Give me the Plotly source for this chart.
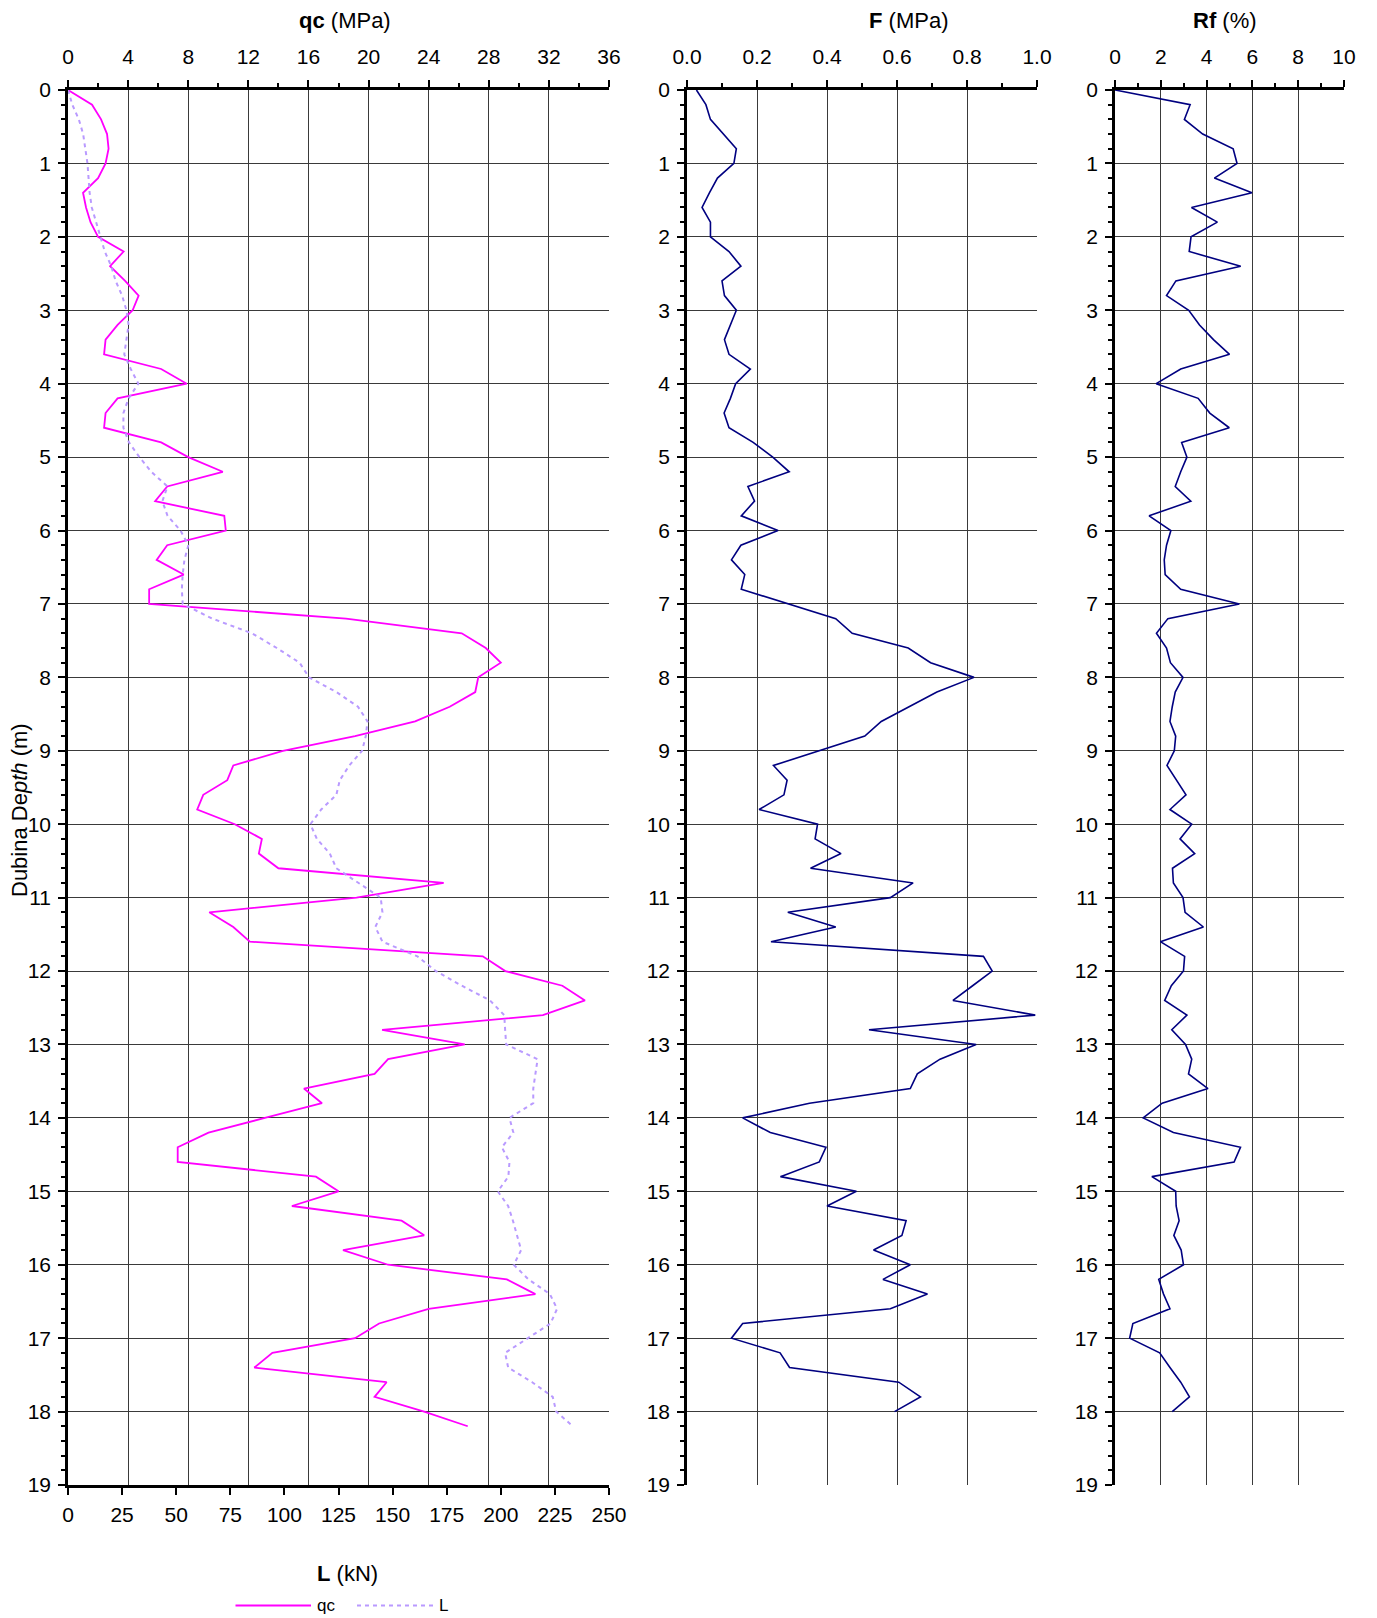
import plotly.graph_objects as go

# ---------------- data ----------------
depth_qc = [0.0, 0.2, 0.4, 0.6, 0.8, 1.0, 1.2, 1.4, 1.6, 1.8, 2.0, 2.2, 2.4, 2.6, 2.8, 3.0,
            3.2, 3.4, 3.6, 3.8, 4.0, 4.2, 4.4, 4.6, 4.8, 5.0, 5.2, 5.4, 5.6, 5.8, 6.0, 6.2,
            6.4, 6.6, 6.8, 7.0, 7.2, 7.4, 7.6, 7.8, 8.0, 8.2, 8.4, 8.6, 8.8, 9.0, 9.2, 9.4,
            9.6, 9.8, 10.0, 10.2, 10.4, 10.6, 10.8, 11.0, 11.2, 11.4, 11.6, 11.8, 12.0, 12.2,
            12.4, 12.6, 12.8, 13.0, 13.2, 13.4, 13.6, 13.8, 14.0, 14.2, 14.4, 14.6, 14.8, 15.0,
            15.2, 15.4, 15.6, 15.8, 16.0, 16.2, 16.4, 16.6, 16.8, 17.0, 17.2, 17.4, 17.6, 17.8,
            18.0, 18.2]

qc_mpa = [0, 1.6, 2.2, 2.6, 2.7, 2.5, 2.0, 1.0, 1.2, 1.5, 2.0, 3.7, 2.8, 3.8, 4.7, 4.3,
          3.3, 2.5, 2.4, 6.2, 7.9, 3.3, 2.5, 2.4, 6.2, 8.0, 10.3, 6.6, 5.8, 10.4, 10.5, 6.6,
          5.9, 7.7, 5.4, 5.4, 18.5, 26.2, 27.8, 28.8, 27.3, 27.1, 25.4, 23.1, 19.1, 14.3, 11.0, 10.6,
          9.0, 8.6, 11.1, 12.9, 12.7, 14.0, 25.0, 19.2, 9.4, 11.0, 12.1, 27.6, 29.1, 32.9,
          34.4, 31.6, 20.9, 26.4, 21.3, 20.4, 15.7, 16.9, 13.1, 9.35, 7.3, 7.3, 16.5, 18.0,
          14.9, 22.2, 23.7, 18.3, 21.3, 29.2, 31.1, 24.0, 20.7, 19.1, 13.6, 12.4, 21.2, 20.4,
          23.7, 26.6]

L_kn = [0, 2, 5, 7, 8, 9, 9.5, 10, 11, 13, 15, 17, 20, 22, 25, 27,
        28, 27, 26, 29, 32.5, 28, 25.6, 25.6, 28.2, 33, 38.5, 46, 43.6, 46, 52, 55.6,
        53.8, 53, 52.6, 53, 66.7, 85, 96.5, 107, 111.4, 124, 134, 138.4, 137.6, 135.9, 130, 125.6,
        124, 117, 112, 115, 121, 124, 134, 144.5, 145.3, 142, 145.3, 161.5, 170, 182,
        195, 201.6, 202, 202.5, 217, 216, 215, 215, 204, 205.8, 200.5, 204, 203.5, 198.6,
        203.4, 205.6, 207.6, 209.4, 206, 212.8, 222.7, 226, 223, 212.8, 202, 203.4, 214.5, 224,
        225.6, 233.3]

depth_f = [0.0, 0.2, 0.4, 0.6, 0.8, 1.0, 1.2, 1.4, 1.6, 1.8, 2.0, 2.2, 2.4, 2.6, 2.8, 3.0,
           3.2, 3.4, 3.6, 3.8, 4.0, 4.2, 4.4, 4.6, 4.8, 5.0, 5.2, 5.4, 5.6, 5.8, 6.0, 6.2,
           6.4, 6.6, 6.8, 7.0, 7.2, 7.4, 7.6, 7.8, 8.0, 8.2, 8.4, 8.6, 8.8, 9.0, 9.2, 9.4,
           9.6, 9.8, 10.0, 10.2, 10.4, 10.6, 10.8, 11.0, 11.2, 11.4, 11.6, 11.8, 12.0, 12.2,
           12.4, 12.6, 12.8, 13.0, 13.2, 13.4, 13.6, 13.8, 14.0, 14.2, 14.4, 14.6, 14.8, 15.0,
           15.2, 15.4, 15.6, 15.8, 16.0, 16.2, 16.4, 16.6, 16.8, 17.0, 17.2, 17.4, 17.6, 17.8,
           18.0]

F_mpa = [0.027, 0.054, 0.067, 0.105, 0.141, 0.134, 0.087, 0.064, 0.043, 0.067, 0.067, 0.12, 0.154, 0.10, 0.107, 0.141,
         0.123, 0.107, 0.12, 0.181, 0.139, 0.124, 0.106, 0.12, 0.189, 0.245, 0.292, 0.174, 0.193, 0.155, 0.26, 0.154,
         0.127, 0.165, 0.155, 0.288, 0.425, 0.472, 0.632, 0.696, 0.82, 0.714, 0.636, 0.555, 0.508, 0.375, 0.247, 0.286,
         0.277, 0.206, 0.373, 0.366, 0.44, 0.353, 0.646, 0.581, 0.288, 0.425, 0.24, 0.847, 0.872, 0.816,
         0.76, 0.995, 0.52, 0.826, 0.723, 0.658, 0.638, 0.35, 0.159, 0.238, 0.397, 0.378, 0.267, 0.484,
         0.4, 0.626, 0.614, 0.533, 0.638, 0.56, 0.687, 0.581, 0.159, 0.127, 0.266, 0.293, 0.605, 0.667,
         0.593]

Rf_pct = [0, 3.28, 3.03, 3.83, 5.16, 5.33, 4.34, 5.98, 3.34, 4.47, 3.32, 3.24, 5.49, 2.66, 2.25, 3.22,
          3.69, 4.3, 5.0, 2.87, 1.8, 3.63, 4.14, 4.99, 2.91, 3.14, 2.87, 2.63, 3.31, 1.49, 2.44, 2.25,
          2.15, 2.19, 2.87, 5.43, 2.31, 1.81, 2.25, 2.42, 2.97, 2.63, 2.5, 2.4, 2.65, 2.59, 2.27, 2.68,
          3.1, 2.4, 3.35, 2.84, 3.48, 2.51, 2.55, 2.97, 3.06, 3.86, 1.98, 3.04, 2.99, 2.46,
          2.17, 3.14, 2.48, 3.08, 3.35, 3.21, 4.06, 2.06, 1.23, 2.55, 5.48, 5.2, 1.61, 2.65,
          2.67, 2.8, 2.57, 2.89, 2.99, 1.91, 2.12, 2.4, 0.78, 0.64, 1.95, 2.4, 2.87, 3.25,
          2.5]

qc_ticks = [0, 4, 8, 12, 16, 20, 24, 28, 32, 36]
L_ticks = [0, 25, 50, 75, 100, 125, 150, 175, 200, 225, 250]
F_ticks = [0.0, 0.2, 0.4, 0.6, 0.8, 1.0]
Rf_ticks = [0, 2, 4, 6, 8, 10]
depth_ticks = list(range(0, 20))

# ---------------- geometry (page px; the page body has an 8px margin) ----------------
OFF = 8
W, H = 1377 - OFF, 1618 - OFF
PLOT_L, PLOT_R, PLOT_T, PLOT_B = 68, 1344, 90, 1485   # page coords of plot area
ML = PLOT_L - OFF
MT = PLOT_T - OFF
MR = W - (PLOT_R - OFF)
MB = H - (PLOT_B - OFF)
PW = PLOT_R - PLOT_L
PH = PLOT_B - PLOT_T


def px_x(x):
    return (x - PLOT_L) / PW


def px_y(y):
    return (PLOT_B - y) / PH


FONT = "Liberation Sans, Arial, sans-serif"
MAGENTA = "#FF00FF"
LAV = "#B99AFF"
NAVY = "#000080"
GRID = "#3a3a3a"
L_DASH = "4px,4px"

fig = go.Figure()
fig.add_trace(go.Scatter(x=qc_mpa, y=depth_qc, mode="lines", name="qc",
                         line=dict(color=MAGENTA, width=1.8), xaxis="x", yaxis="y"))
fig.add_trace(go.Scatter(x=L_kn, y=depth_qc, mode="lines", name="L",
                         line=dict(color=LAV, width=2, dash=L_DASH), xaxis="x4", yaxis="y"))
fig.add_trace(go.Scatter(x=F_mpa, y=depth_f, mode="lines", name="F",
                         line=dict(color=NAVY, width=1.6), xaxis="x2", yaxis="y2"))
fig.add_trace(go.Scatter(x=Rf_pct, y=depth_f, mode="lines", name="Rf",
                         line=dict(color=NAVY, width=1.6), xaxis="x3", yaxis="y3"))

tickfont = dict(family=FONT, size=21, color="black")

top_common = dict(side="top", showgrid=True, gridcolor=GRID, gridwidth=1,
                  showline=True, linecolor="black", linewidth=2.5,
                  ticks="outside", ticklen=7, tickwidth=1.5, tickcolor="black",
                  tickfont=tickfont, ticklabelstandoff=8, zeroline=False)

y_common = dict(range=[19, 0], tickmode="array", tickvals=depth_ticks,
                showgrid=True, gridcolor=GRID, gridwidth=1,
                showline=True, linecolor="black", linewidth=2.5,
                ticks="outside", ticklen=7, tickwidth=1.5, tickcolor="black",
                minor=dict(dtick=0.2, tick0=0, ticks="outside", ticklen=4,
                           tickwidth=1.5, tickcolor="black", showgrid=False),
                tickfont=tickfont, ticklabelstandoff=3, zeroline=False)

d1 = [0, px_x(609)]
d2 = [px_x(687), px_x(1037)]
d3 = [px_x(1115), 1.0]

fig.update_layout(
    width=W, height=H,
    margin=dict(l=ML, r=MR, t=MT, b=MB, pad=0, autoexpand=False),
    paper_bgcolor="white", plot_bgcolor="white",
    font=dict(family=FONT, color="black"),
    showlegend=False,
    xaxis=dict(domain=d1, range=[0, 36], tickmode="array", tickvals=qc_ticks,
               minor=dict(dtick=2, tick0=0, ticks="outside", ticklen=4, tickwidth=1.5,
                          tickcolor="black", showgrid=False),
               anchor="y", **top_common),
    xaxis4=dict(overlaying="x", side="bottom", anchor="y", range=[0, 250],
                tickmode="array", tickvals=L_ticks, showgrid=False,
                showline=True, linecolor="black", linewidth=2.5,
                ticks="outside", ticklen=7, tickwidth=1.5, tickcolor="black",
                tickfont=tickfont, ticklabelstandoff=2, zeroline=False),
    xaxis2=dict(domain=d2, range=[0, 1.0], tickmode="array", tickvals=F_ticks,
                tickformat=".1f",
                minor=dict(dtick=0.1, tick0=0, ticks="outside", ticklen=4, tickwidth=1.5,
                           tickcolor="black", showgrid=False),
                anchor="y2", **top_common),
    xaxis3=dict(domain=d3, range=[0, 10], tickmode="array", tickvals=Rf_ticks,
                minor=dict(dtick=1, tick0=0, ticks="outside", ticklen=4, tickwidth=1.5,
                           tickcolor="black", showgrid=False),
                anchor="y3", **top_common),
    yaxis=dict(anchor="x", **y_common),
    yaxis2=dict(anchor="x2", **y_common),
    yaxis3=dict(anchor="x3", **y_common),
)

ann_font = dict(family=FONT, size=22, color="black")


def ann(text, x, y, **kw):
    fig.add_annotation(text=text, x=px_x(x), y=px_y(y), xref="paper", yref="paper",
                       showarrow=False, xanchor=kw.pop("xanchor", "center"),
                       yanchor="middle", font=kw.pop("font", ann_font), **kw)


TITLE_Y = 21
ann("<b>qc</b> (MPa)", 345, TITLE_Y)
ann("<b>F</b> (MPa)", 908, TITLE_Y)
ann("<b>Rf</b> (%)", 1225, TITLE_Y)
ann("<b>L</b> (kN)", 347, 1573)
ann("Dubina De<i>pth</i> (m)", 19, 810, textangle=-90)

# legend key (line samples + labels)
leg_font = dict(family=FONT, size=17, color="black")
LEG_Y = 1605.5
fig.add_shape(type="line", xref="paper", yref="paper",
              x0=px_x(235.5), x1=px_x(311), y0=px_y(LEG_Y), y1=px_y(LEG_Y),
              line=dict(color=MAGENTA, width=2))
ann("qc", 315, 1605, xanchor="left", font=leg_font)
fig.add_shape(type="line", xref="paper", yref="paper",
              x0=px_x(357), x1=px_x(433), y0=px_y(LEG_Y), y1=px_y(LEG_Y),
              line=dict(color=LAV, width=2, dash=L_DASH))
ann("L", 437, 1605, xanchor="left", font=leg_font)

fig.write_html("out.html")
